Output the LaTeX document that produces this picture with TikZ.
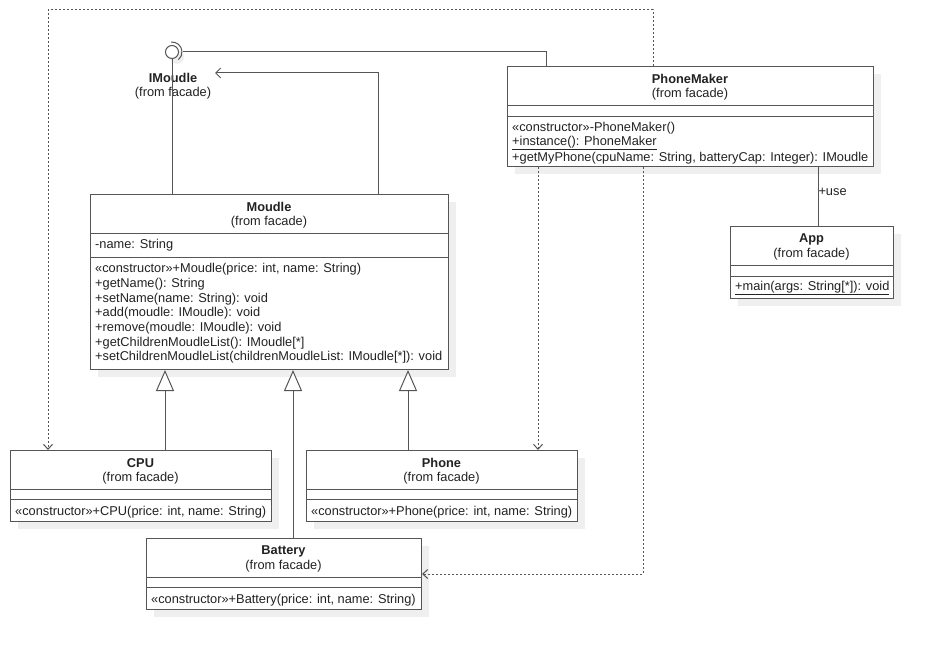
\documentclass[tikz,border=0pt]{standalone}
\usepackage{fontspec}
\setmainfont{Liberation Sans}
\usetikzlibrary{calc,arrows.meta}
\definecolor{linec}{HTML}{555555}
\definecolor{shadowc}{HTML}{EFEFEF}
\definecolor{textc}{HTML}{222222}
\tikzset{
  classbox/.style={draw=linec, line width=1pt, fill=white, inner sep=0pt, anchor=north west},
  txt/.style={inner sep=0pt, yshift=-1.3pt, text=textc, font=\fontsize{12.8}{14.7}\selectfont},
  ttl/.style={txt, anchor=center, font=\fontsize{12.8}{14.7}\selectfont\bfseries},
  sub/.style={txt, anchor=center},
  mem/.style={txt, anchor=west},
  conn/.style={draw=linec, line width=1pt},
  dep/.style={conn, dash pattern=on 2pt off 2pt, -{Straight Barb[length=5pt,width=9pt]}},
  navarrow/.style={conn, -{Straight Barb[length=5pt,width=10pt]}},
  gen/.style={conn, -{Triangle[open, length=21pt, width=18pt, fill=white]}},
}
\newcommand\umlbox[5]{%
  \fill[shadowc] (#2+8,#3+8) rectangle ++(#4,#5);
  \node[classbox, minimum width=#4pt, minimum height=#5pt] (#1) at (#2,#3) {};
}
\newcommand\compline[2]{\draw[conn] (#1.west |- 0,#2) -- (#1.east |- 0,#2);}
\begin{document}
\begin{tikzpicture}[x=1pt,y=-1pt]
\useasboundingbox (0,0) rectangle (933,650);
\fill[white] (0,0) rectangle (933,650);

% ---------- classes ----------
% PhoneMaker
\umlbox{phonemaker}{507}{66}{366}{100}
\compline{phonemaker}{106}
\compline{phonemaker}{116}
\node[ttl] (pmt) at (690,78) {PhoneMaker};
\node[sub] (pms) at (690,93) {(from facade)};
\node[mem] (pm1) at (512,127) {«constructor»-PhoneMaker()};
\node[mem] (pm2) at (512,142) {\underline{+instance(): PhoneMaker}};
\node[mem] (pm3) at (512,157) {+getMyPhone(cpuName: String, batteryCap: Integer): IMoudle};

% Moudle
\umlbox{moudle}{90}{194}{358}{175}
\compline{moudle}{233}
\compline{moudle}{257}
\node[ttl] (mt) at (269,206) {Moudle};
\node[sub] (ms) at (269,221) {(from facade)};
\node[mem] (ma) at (95,244) {-name: String};
\node[mem] (m1) at (95,268) {«constructor»+Moudle(price: int, name: String)};
\node[mem] (m2) at (95,283) {+getName(): String};
\node[mem] (m3) at (95,297.5) {+setName(name: String): void};
\node[mem] (m4) at (95,312) {+add(moudle: IMoudle): void};
\node[mem] (m5) at (95,327) {+remove(moudle: IMoudle): void};
\node[mem] (m6) at (95,341.5) {+getChildrenMoudleList(): IMoudle[*]};
\node[mem] (m7) at (95,356) {+setChildrenMoudleList(childrenMoudleList: IMoudle[*]): void};

% CPU
\umlbox{cpu}{10}{450}{261}{71}
\compline{cpu}{489}
\compline{cpu}{499}
\node[ttl] (ct) at (140.5,462) {CPU};
\node[sub] (cs) at (140.5,477) {(from facade)};
\node[mem] (c1) at (15,510.5) {«constructor»+CPU(price: int, name: String)};

% Phone
\umlbox{phone}{306}{450}{271}{71}
\compline{phone}{489}
\compline{phone}{499}
\node[ttl] (pt) at (441.5,462) {Phone};
\node[sub] (ps) at (441.5,477) {(from facade)};
\node[mem] (p1) at (311,510.5) {«constructor»+Phone(price: int, name: String)};

% Battery
\umlbox{battery}{146}{538}{275}{71}
\compline{battery}{577}
\compline{battery}{587}
\node[ttl] (bt) at (283.5,550) {Battery};
\node[sub] (bs) at (283.5,565) {(from facade)};
\node[mem] (b1) at (151,598.5) {«constructor»+Battery(price: int, name: String)};

% App
\umlbox{app}{730}{226}{163}{72}
\compline{app}{265}
\compline{app}{276}
\node[ttl] (at) at (811.5,238) {App};
\node[sub] (as) at (811.5,253) {(from facade)};
\node[mem] (a1) at (735,287) {\underline{+main(args: String[*]): void}};

% ---------- interface lollipop ----------
\fill[shadowc] (177,57) circle (7pt);
\node[circle, draw=linec, line width=1pt, fill=white, minimum size=13pt, inner sep=0pt] (iface) at (172,52) {};
\draw[conn] (iface.center) ++(95:10pt) arc[start angle=95, end angle=-50, radius=10pt];
\node[ttl] (ilabel) at (173,77) {IMoudle};
\node[sub] (isub) at (173,92) {(from facade)};

% ---------- connectors ----------
% realization of IMoudle by Moudle
\draw[conn] (iface.south) -- (iface.south |- moudle.north);
% PhoneMaker requires IMoudle
\draw[conn] ($(iface.east)+(4,0)$) -| ($(phonemaker.north west)+(39,0)$);
% Moudle navigable association to IMoudle
\coordinate (assocend) at (215,73);
\draw[navarrow] ($(moudle.north west)+(288,0)$) |- (assocend);
% dependencies from PhoneMaker
\draw[dep] ($(phonemaker.north west)+(146,0)$) -- ++(0,-56) -| ($(cpu.north west)+(38,0)$);
\draw[dep] ($(phonemaker.south west)+(31,0)$) -- ($(phone.north west)+(232,0)$);
\draw[dep] ($(phonemaker.south west)+(136,0)$) |- (battery.east);
% App uses PhoneMaker
\draw[conn] ($(phonemaker.south west)+(311,0)$) -- ($(app.north west)+(88,0)$)
  node[pos=0.4, mem, anchor=west] (uselbl) {+use};
% generalizations
\draw[gen] ($(cpu.north west)+(155,0)$) -- ($(moudle.south west)+(75,0)$);
\draw[gen] ($(battery.north west)+(147,0)$) -- ($(moudle.south west)+(203,0)$);
\draw[gen] ($(phone.north west)+(102,0)$) -- ($(moudle.south west)+(318,0)$);
\end{tikzpicture}
\end{document}
